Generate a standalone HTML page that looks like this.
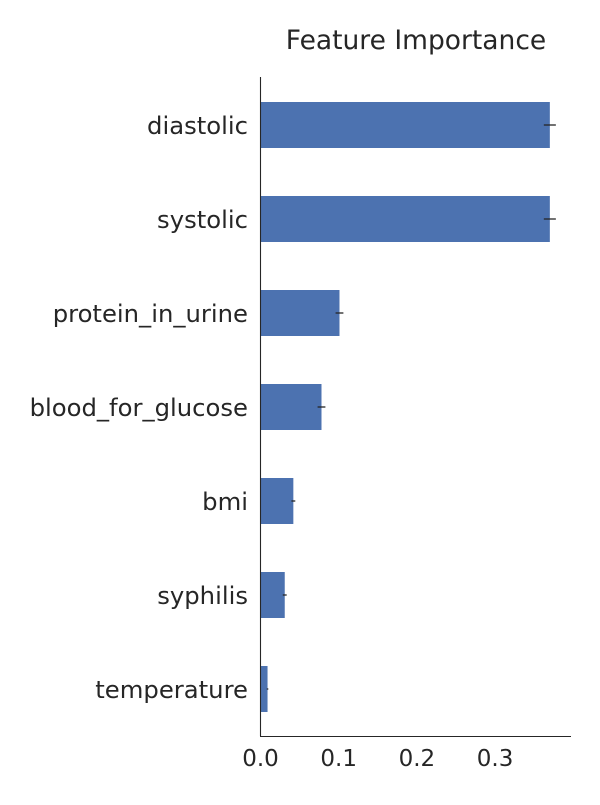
<!DOCTYPE html>
<html><head><meta charset="utf-8"><style>
html,body{margin:0;padding:0;background:#fff;}
svg text{font-family:"DejaVu Sans","Liberation Sans",sans-serif;fill:#262626;}
</style></head><body>
<svg id="chart" width="600" height="800">
<text x="416" y="49" font-size="26.5" text-anchor="middle">Feature Importance</text>
<g id="bars"></g>
<g id="ticks"></g>
<line x1="260.5" y1="77" x2="260.5" y2="736" stroke="#262626" stroke-width="1.1"/>
<line x1="260" y1="736.5" x2="571" y2="736.5" stroke="#262626" stroke-width="1.1"/>
</svg>
<script>
const features=["diastolic","systolic","protein_in_urine","blood_for_glucose","bmi","syphilis","temperature"];
const importance=[0.370,0.370,0.101,0.078,0.042,0.031,0.009];
const errors=[0.0077,0.0077,0.005,0.005,0.0025,0.0025,0.001];
const xTicks=[0.0,0.1,0.2,0.3];
const xTickLabels=["0.0","0.1","0.2","0.3"];
const NS="http://www.w3.org/2000/svg";
const x=v=>260.5+v*782;
const y=i=>125+i*94;
const bars=document.getElementById('bars'),ticks=document.getElementById('ticks');
function mk(tag,attrs){const e=document.createElementNS(NS,tag);for(const k in attrs)e.setAttribute(k,attrs[k]);return e;}
features.forEach((f,i)=>{
 const r=mk('rect',{x:x(0),y:y(i)-23,width:x(importance[i])-x(0),height:46,fill:'#4c72b0'});
 
 
 bars.appendChild(r);
 const l=mk('line',{x1:x(importance[i]-errors[i]),x2:x(importance[i]+errors[i]),y1:y(i),y2:y(i),stroke:'#262626','stroke-width':1.3});
 
 
 bars.appendChild(l);
 const t=mk('text',{x:248,y:y(i)+9,'font-size':24.3,'text-anchor':'end'});
 t.textContent=f;
 
 
 ticks.appendChild(t);
});
xTicks.forEach((v,i)=>{
 const t=mk('text',{x:x(v),y:766,'font-size':23,'text-anchor':'middle'});
 t.textContent=xTickLabels[i];
 
 
 ticks.appendChild(t);
});
</script>
</body></html>
